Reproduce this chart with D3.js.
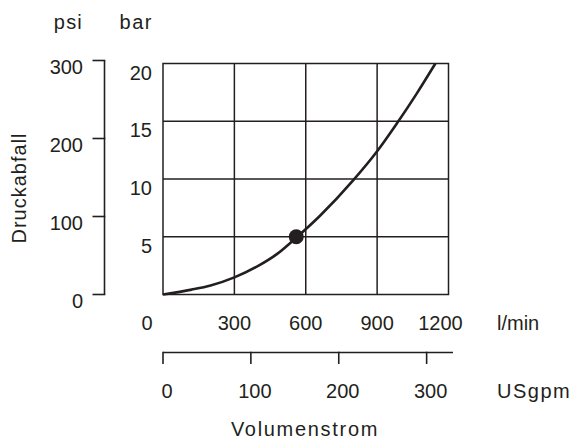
<!DOCTYPE html>
<html>
<head>
<meta charset="utf-8">
<script src="https://cdn.jsdelivr.net/npm/d3@7"></script>
<style>
  html, body { margin: 0; padding: 0; background: #fff; }
  svg { display: block; }
  text { font-family: "Liberation Sans", Arial, Helvetica, sans-serif; fill: #231f20; }
</style>
</head>
<body>
<svg id="chart" width="574" height="441"></svg>
<script>
// ---- data ----
const flowLmin   = [0, 120, 200, 300, 400, 480, 560, 660, 800, 900, 980, 1065, 1145];
const dropBar    = [0, 0.42, 0.78, 1.48, 2.48, 3.52, 4.92, 6.82, 9.9, 12.4, 14.72, 17.35, 20.0];
const markerFlow = [560];
const markerBar  = [5];
const lminTicks  = [0, 300, 600, 900, 1200];
const barTicks   = [5, 10, 15, 20];
const psiTicks   = [0, 100, 200, 300];
const gpmTicks   = [0, 100, 200, 300];
const labels = { psi: "psi", bar: "bar", lmin: "l/min", gpm: "USgpm", xTitle: "Volumenstrom", yTitle: "Druckabfall" };

// ---- scales ----
const x   = d3.scaleLinear().domain([0, 1200]).range([163, 448.5]);
const y   = d3.scaleLinear().domain([0, 20]).range([294.5, 63.5]);
const psi = d3.scaleLinear().domain([0, 300]).range([294.5, 60.5]);
const gpm = d3.scaleLinear().domain([0, 330]).range([163, 453]);

const svg = d3.select("#chart");
const ink = "#231f20";
const FS = 20;

// ---- plot frame and grid ----
const g = svg.append("g");
g.selectAll("line.vgrid").data(lminTicks.slice(1, -1)).enter().append("line")
  .attr("x1", d => x(d)).attr("x2", d => x(d))
  .attr("y1", y(0)).attr("y2", y(20))
  .attr("stroke", ink).attr("stroke-width", 1.5);
g.selectAll("line.hgrid").data(barTicks.slice(0, -1)).enter().append("line")
  .attr("x1", x(0)).attr("x2", x(1200))
  .attr("y1", d => y(d)).attr("y2", d => y(d))
  .attr("stroke", ink).attr("stroke-width", 1.5);
g.append("rect")
  .attr("x", x(0)).attr("y", y(20))
  .attr("width", x(1200) - x(0)).attr("height", y(0) - y(20))
  .attr("fill", "none").attr("stroke", ink).attr("stroke-width", 1.5);

// ---- curve ----
const pts = flowLmin.map((f, i) => [f, dropBar[i]]);
const line = d3.line().x(d => x(d[0])).y(d => y(d[1])).curve(d3.curveMonotoneX);
g.append("path").datum(pts).attr("d", line)
  .attr("fill", "none").attr("stroke", ink).attr("stroke-width", 2.6);
g.selectAll("circle.mark").data(markerFlow.map((f, i) => [f, markerBar[i]])).enter().append("circle")
  .attr("cx", d => x(d[0])).attr("cy", d => y(d[1])).attr("r", 7.5).attr("fill", ink);

// ---- bar tick labels ----
svg.selectAll("text.bar").data(barTicks).enter().append("text")
  .attr("x", 152).attr("y", d => y(d) + 9)
  .attr("dy", "0.35em").attr("text-anchor", "end")
  .attr("font-size", FS).text(d => d);

// ---- psi axis ----
const psiAxis = svg.append("g");
psiAxis.append("line")
  .attr("x1", 104.5).attr("x2", 104.5)
  .attr("y1", psi(300)).attr("y2", psi(0))
  .attr("stroke", ink).attr("stroke-width", 1.6);
psiAxis.selectAll("line.t").data(psiTicks).enter().append("line")
  .attr("x1", 92.5).attr("x2", 105.3)
  .attr("y1", d => psi(d)).attr("y2", d => psi(d))
  .attr("stroke", ink).attr("stroke-width", 1.6);
psiAxis.selectAll("text").data(psiTicks).enter().append("text")
  .attr("x", 83).attr("y", d => psi(d) + 6)
  .attr("dy", "0.35em").attr("text-anchor", "end")
  .attr("font-size", FS).text(d => d);

// ---- unit labels (top) ----
svg.append("text").attr("x", 83).attr("y", 29).attr("text-anchor", "end")
  .attr("font-size", FS).attr("letter-spacing", 1.2).text(labels.psi);
svg.append("text").attr("x", 153).attr("y", 29).attr("text-anchor", "end")
  .attr("font-size", FS).attr("letter-spacing", 1.5).text(labels.bar);

// ---- y title ----
svg.append("text")
  .attr("transform", "translate(26,188) rotate(-90)")
  .attr("text-anchor", "middle").attr("font-size", FS).attr("letter-spacing", 1)
  .text(labels.yTitle);

// ---- l/min tick labels ----
svg.selectAll("text.lmin").data(lminTicks).enter().append("text")
  .attr("x", (d, i) => x(d) + (i === 0 ? -16 : (i === lminTicks.length - 1 ? -8 : 0)))
  .attr("y", 330).attr("text-anchor", "middle")
  .attr("font-size", FS).text(d => d);
svg.append("text").attr("x", 497).attr("y", 330)
  .attr("font-size", FS).text(labels.lmin);

// ---- USgpm axis ----
const gAxis = svg.append("g");
gAxis.append("line")
  .attr("x1", gpm(0)).attr("x2", gpm(330))
  .attr("y1", 352.5).attr("y2", 352.5)
  .attr("stroke", ink).attr("stroke-width", 1.6);
gAxis.selectAll("line.t").data(gpmTicks).enter().append("line")
  .attr("x1", d => gpm(d)).attr("x2", d => gpm(d))
  .attr("y1", 351.7).attr("y2", 364)
  .attr("stroke", ink).attr("stroke-width", 1.6);
gAxis.selectAll("text").data(gpmTicks).enter().append("text")
  .attr("x", d => gpm(d) + 4).attr("y", 398).attr("text-anchor", "middle")
  .attr("font-size", FS).text(d => d);
svg.append("text").attr("x", 497).attr("y", 398)
  .attr("font-size", FS).attr("letter-spacing", 1.5).text(labels.gpm);

// ---- x title ----
svg.append("text").attr("x", 305).attr("y", 436).attr("text-anchor", "middle")
  .attr("font-size", FS).attr("letter-spacing", 1.7).text(labels.xTitle);
</script>
</body>
</html>
